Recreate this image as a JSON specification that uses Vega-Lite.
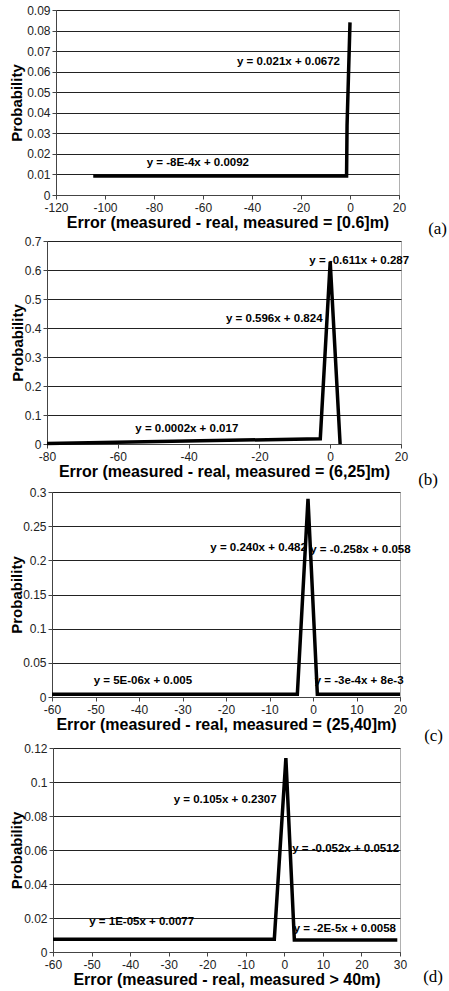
{
  "$schema": "https://vega.github.io/schema/vega-lite/v6.json",
  "padding": {"left": 8, "top": 3, "right": 0, "bottom": 0},
  "background": "white",
  "spacing": -4,
  "datasets": {
    "a_line": [{"x": -104.8, "y": 0.0093}, {"x": -1.4, "y": 0.0093}, {"x": -1.2, "y": 0.034}, {"x": -0.6, "y": 0.059}, {"x": 0, "y": 0.084}],
    "a_text": [{"x": -25.1, "y": 0.0648, "label": "y = 0.021x + 0.0672"}, {"x": -62.1, "y": 0.0154, "label": "y = -8E-4x + 0.0092"}],
    "b_line": [{"x": -80, "y": 0.002}, {"x": -2.8, "y": 0.018}, {"x": 0, "y": 0.628}, {"x": 2.8, "y": 0}],
    "b_text": [{"x": 8.2, "y": 0.631, "label": "y = -0.611x + 0.287"}, {"x": -15.8, "y": 0.432, "label": "y = 0.596x + 0.824"}, {"x": -40.5, "y": 0.052, "label": "y = 0.0002x + 0.017"}],
    "c_line": [{"x": -60, "y": 0.004}, {"x": -3.6, "y": 0.004}, {"x": -1.15, "y": 0.29}, {"x": 1.0, "y": 0.004}, {"x": 20, "y": 0.004}],
    "c_text": [{"x": -12.5, "y": 0.2175, "label": "y = 0.240x + 0.482"}, {"x": 10.9, "y": 0.215, "label": "y = -0.258x + 0.058"}, {"x": -39.1, "y": 0.023, "label": "y = 5E-06x + 0.005"}, {"x": 10.6, "y": 0.024, "label": "y = -3e-4x + 8e-3"}],
    "d_line": [{"x": -60, "y": 0.0075}, {"x": -2.6, "y": 0.0075}, {"x": 0.4, "y": 0.114}, {"x": 2.6, "y": 0.007}, {"x": 29.3, "y": 0.007}],
    "d_text": [{"x": -15.35, "y": 0.0896, "label": "y = 0.105x + 0.2307"}, {"x": 15.9, "y": 0.0605, "label": "y = -0.052x + 0.0512"}, {"x": -37, "y": 0.0179, "label": "y = 1E-05x + 0.0077"}, {"x": 15.7, "y": 0.0134, "label": "y = -2E-5x + 0.0058"}],
    "empty": []
  },
  "vconcat": [
    {"hconcat": [
      {"width": 1, "height": 1, "view": {"stroke": null}, "data": {"name": "empty"}, "mark": "point"},
      {
      "width": 343, "height": 185,
      "title": {"text": "(a)", "orient": "bottom", "anchor": "end", "frame": "group", "dx": 48, "offset": -9},
      "encoding": {
        "x": {"field": "x", "type": "quantitative", "scale": {"domain": [-120, 20], "nice": false, "zero": false}, "axis": {"values": [-120, -100, -80, -60, -40, -20, 0, 20], "title": "Error (measured - real, measured = [0.6]m)"}},
        "y": {"field": "y", "type": "quantitative", "scale": {"domain": [0, 0.09], "nice": false}, "axis": {"values": [0, 0.01, 0.02, 0.03, 0.04, 0.05, 0.06, 0.07, 0.08, 0.09], "title": "Probability", "titlePadding": 2}}
      },
      "layer": [
        {"mark": {"type": "rule", "color": "#555", "strokeWidth": 1}, "encoding": {"x": {"datum": 0}, "y": null}},
        {"data": {"name": "a_line"}, "mark": {"type": "line", "color": "black", "strokeWidth": 3.5}},
        {"data": {"name": "a_text"}, "mark": {"type": "text", "font": "Liberation Sans", "fontWeight": "bold", "fontSize": 11.5, "color": "black"}, "encoding": {"text": {"field": "label"}}}
      ]
    }]},
    {"hconcat": [
      {"width": 1, "height": 1, "view": {"stroke": null}, "data": {"name": "empty"}, "mark": "point"},
      {
      "width": 354, "height": 203,
      "title": {"text": "(b)", "orient": "bottom", "anchor": "end", "frame": "group", "dx": 37, "offset": -7},
      "encoding": {
        "x": {"field": "x", "type": "quantitative", "scale": {"domain": [-80, 20], "nice": false, "zero": false}, "axis": {"values": [-80, -60, -40, -20, 0, 20], "title": "Error (measured - real, measured = (6,25]m)"}},
        "y": {"field": "y", "type": "quantitative", "scale": {"domain": [0, 0.7], "nice": false}, "axis": {"values": [0, 0.1, 0.2, 0.3, 0.4, 0.5, 0.6, 0.7], "title": "Probability", "titlePadding": -1}}
      },
      "layer": [
        {"mark": {"type": "rule", "color": "#555", "strokeWidth": 1}, "encoding": {"x": {"datum": 0}, "y": null}},
        {"data": {"name": "b_line"}, "mark": {"type": "line", "color": "black", "strokeWidth": 3.5}},
        {"data": {"name": "b_text"}, "mark": {"type": "text", "font": "Liberation Sans", "fontWeight": "bold", "fontSize": 11.5, "color": "black"}, "encoding": {"text": {"field": "label"}}}
      ]
    }]},
    {"hconcat": [
      {"width": 1, "height": 1, "view": {"stroke": null}, "data": {"name": "empty"}, "mark": "point"},
      {
      "width": 348, "height": 205,
      "title": {"text": "(c)", "orient": "bottom", "anchor": "end", "frame": "group", "dx": 43, "offset": -4},
      "encoding": {
        "x": {"field": "x", "type": "quantitative", "scale": {"domain": [-60, 20], "nice": false, "zero": false}, "axis": {"values": [-60, -50, -40, -30, -20, -10, 0, 10, 20], "title": "Error (measured - real, measured = (25,40]m)"}},
        "y": {"field": "y", "type": "quantitative", "scale": {"domain": [0, 0.3], "nice": false}, "axis": {"values": [0, 0.05, 0.1, 0.15, 0.2, 0.25, 0.3], "title": "Probability", "titlePadding": -2}}
      },
      "layer": [
        {"mark": {"type": "rule", "color": "#555", "strokeWidth": 1}, "encoding": {"x": {"datum": 0}, "y": null}},
        {"data": {"name": "c_line"}, "mark": {"type": "line", "color": "black", "strokeWidth": 3.5}},
        {"data": {"name": "c_text"}, "mark": {"type": "text", "font": "Liberation Sans", "fontWeight": "bold", "fontSize": 11.5, "color": "black"}, "encoding": {"text": {"field": "label"}}}
      ]
    }]},
    {"hconcat": [
      {"width": 1, "height": 1, "view": {"stroke": null}, "data": {"name": "empty"}, "mark": "point"},
      {
      "width": 347, "height": 204,
      "title": {"text": "(d)", "orient": "bottom", "anchor": "end", "frame": "group", "dx": 43, "offset": -18},
      "encoding": {
        "x": {"field": "x", "type": "quantitative", "scale": {"domain": [-60, 30], "nice": false, "zero": false}, "axis": {"values": [-60, -50, -40, -30, -20, -10, 0, 10, 20, 30], "title": "Error (measured - real, measured > 40m)"}},
        "y": {"field": "y", "type": "quantitative", "scale": {"domain": [0, 0.12], "nice": false}, "axis": {"values": [0, 0.02, 0.04, 0.06, 0.08, 0.1, 0.12], "title": "Probability", "titlePadding": -1}}
      },
      "layer": [
        {"mark": {"type": "rule", "color": "#555", "strokeWidth": 1}, "encoding": {"x": {"datum": 0}, "y": null}},
        {"data": {"name": "d_line"}, "mark": {"type": "line", "color": "black", "strokeWidth": 3.5}},
        {"data": {"name": "d_text"}, "mark": {"type": "text", "font": "Liberation Sans", "fontWeight": "bold", "fontSize": 11.5, "color": "black"}, "encoding": {"text": {"field": "label"}}}
      ]
    }]}
  ],
  "config": {
    "view": {"stroke": "#b0b0b0"},
    "concat": {"spacing": 0},
    "title": {"font": "Liberation Serif", "fontSize": 17, "fontWeight": "normal", "color": "black"},
    "axis": {"labelFont": "Liberation Sans", "labelFontSize": 12, "labelColor": "#222", "titleFont": "Liberation Sans", "titleFontWeight": "bold", "titleColor": "black", "domainColor": "#444", "tickColor": "#444", "tickSize": 4, "labelPadding": 2, "labelFlush": false, "labelOverlap": false, "labelExpr": "'' + datum.value"},
    "axisX": {"grid": false, "titleFontSize": 16, "titlePadding": 1, "labelPadding": 3},
    "axisY": {"grid": true, "gridColor": "#222", "gridOpacity": 1, "titleFontSize": 15}
  }
}
